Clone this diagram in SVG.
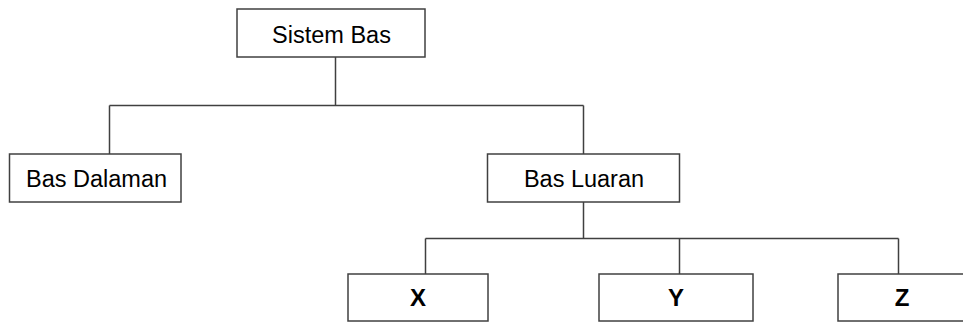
<svg xmlns="http://www.w3.org/2000/svg" width="963" height="323" viewBox="0 0 963 323">
<style>
.box{fill:#fff;stroke:#404040;stroke-width:1.5}
.lbl{font-family:"Liberation Sans",Arial,sans-serif;font-size:23.5px;fill:#000;text-anchor:middle}
.b{font-weight:bold;font-size:24px}
.con{fill:none;stroke:#404040;stroke-width:1.5}
</style>
<rect width="963" height="323" fill="#fff"/>
<g id="connectors">
<path class="con" d="M335.5 57V105.5M109.5 105.5H583.5M109.5 105.5V154M583.5 105.5V154"/>
<path class="con" d="M583.5 202V238.5M425.5 238.5H898.5M425.5 238.5V274M679.5 238.5V274M898.5 238.5V274"/>
</g>
<g id="sistem-bas"><rect class="box" x="237" y="9" width="188" height="48"/><text class="lbl" x="331.5" y="43">Sistem Bas</text></g>
<g id="bas-dalaman"><rect class="box" x="9.5" y="154" width="171.5" height="48"/><text class="lbl" x="96.5" y="187">Bas Dalaman</text></g>
<g id="bas-luaran"><rect class="box" x="487.5" y="154" width="192" height="48"/><text class="lbl" x="584" y="187">Bas Luaran</text></g>
<g id="x"><rect class="box" x="348" y="274" width="140" height="47"/><text class="lbl b" x="418" y="306">X</text></g>
<g id="y"><rect class="box" x="599" y="274" width="154" height="47"/><text class="lbl b" x="676" y="306">Y</text></g>
<g id="z"><rect class="box" x="838" y="274" width="130" height="47"/><text class="lbl b" x="902" y="306">Z</text></g>
</svg>
